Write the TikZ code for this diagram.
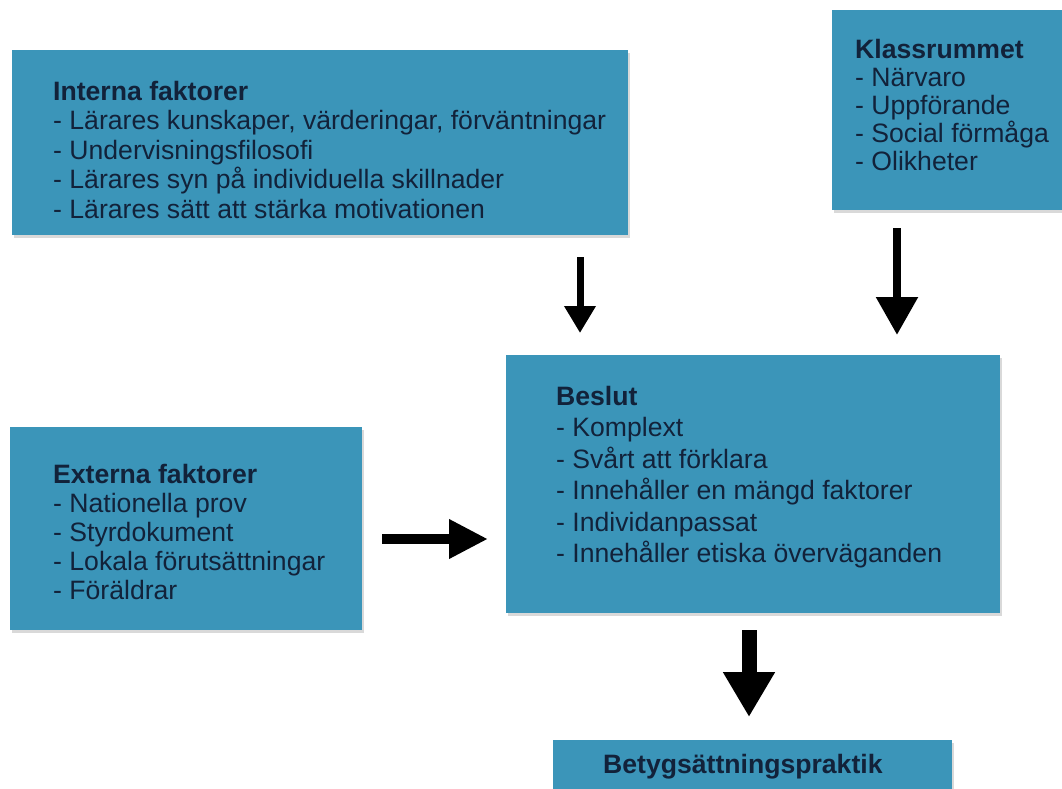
\documentclass[tikz,border=0pt]{standalone}
\usepackage{fontspec}
\setmainfont{Liberation Sans}
\usepackage{xcolor}
\usetikzlibrary{positioning,shadows,arrows.meta}

\definecolor{boxblue}{RGB}{59,149,185}
\definecolor{textnavy}{RGB}{18,34,58}

\tikzset{
	box/.style={rectangle, fill=boxblue, draw=none, anchor=north west, inner sep=0pt,
		drop shadow={shadow xshift=1.5pt, shadow yshift=-3pt, opacity=0.3}},
	boxtext/.style={align=left, inner sep=0pt, text=textnavy},
	flowarrow/.style={draw=black, line width=#1},
}

\begin{document}
\begin{tikzpicture}[x=1pt, y=-1pt]
	\useasboundingbox (0,0) rectangle (1062,789);
	% boxes
	\node[box, minimum width=616pt, minimum height=185pt] at (12,50)(interna){};
	\node[box, minimum width=240pt, minimum height=200pt] at (832,10)(klass){};
	\node[box, minimum width=494pt, minimum height=258pt] at (506,355)(beslut){};
	\node[box, minimum width=352pt, minimum height=203pt] at (10,427)(externa){};
	\node[box, minimum width=399pt, minimum height=70pt] at (553,740)(betyg){};
	% texts
	\node[boxtext, font=\fontsize{26.6}{29.5}\selectfont, below right=31pt and 41pt of interna.north west](internatext){\textbf{Interna faktorer}\\- Lärares kunskaper, värderingar, förväntningar\\- Undervisningsfilosofi\\- Lärares syn på individuella skillnader\\- Lärares sätt att stärka motivationen};
	\node[boxtext, font=\fontsize{26.6}{28}\selectfont, below right=29pt and 23pt of klass.north west](klasstext){\textbf{Klassrummet}\\- Närvaro\\- Uppförande\\- Social förmåga\\- Olikheter};
	\node[boxtext, font=\fontsize{26.6}{31.5}\selectfont, below right=31pt and 50pt of beslut.north west](beslutstext){\textbf{Beslut}\\- Komplext\\- Svårt att förklara\\- Innehåller en mängd faktorer\\- Individanpassat\\- Innehåller etiska överväganden};
	\node[boxtext, font=\fontsize{26.6}{29}\selectfont, below right=37pt and 43pt of externa.north west](externatext){\textbf{Externa faktorer}\\- Nationella prov\\- Styrdokument\\- Lokala förutsättningar\\- Föräldrar};
	\node[boxtext, font=\fontsize{26.6}{29}\selectfont, below right=14pt and 50pt of betyg.north west](betygtext){\textbf{Betygsättningspraktik}};
	% arrows
	\draw[flowarrow=7pt, -{Triangle[length=27pt, width=30pt]}, shorten <=22pt, shorten >=22pt](interna.south -| 580,0) -- (beslut.north -| 580,0);
	\draw[flowarrow=8.5pt, -{Triangle[length=38pt, width=40pt]}, shorten <=18pt, shorten >=20pt](klass.south -| 897,0) -- (beslut.north -| 897,0);
	\draw[flowarrow=10pt, -{Triangle[length=39pt, width=37pt]}, shorten <=20pt, shorten >=18pt](externa.east |- 0,539) -- (beslut.west |- 0,539);
	\draw[flowarrow=15pt, -{Triangle[length=45pt, width=49pt]}, shorten <=17pt, shorten >=23pt](beslut.south -| 749,0) -- (betyg.north -| 749,0);
\end{tikzpicture}
\end{document}
